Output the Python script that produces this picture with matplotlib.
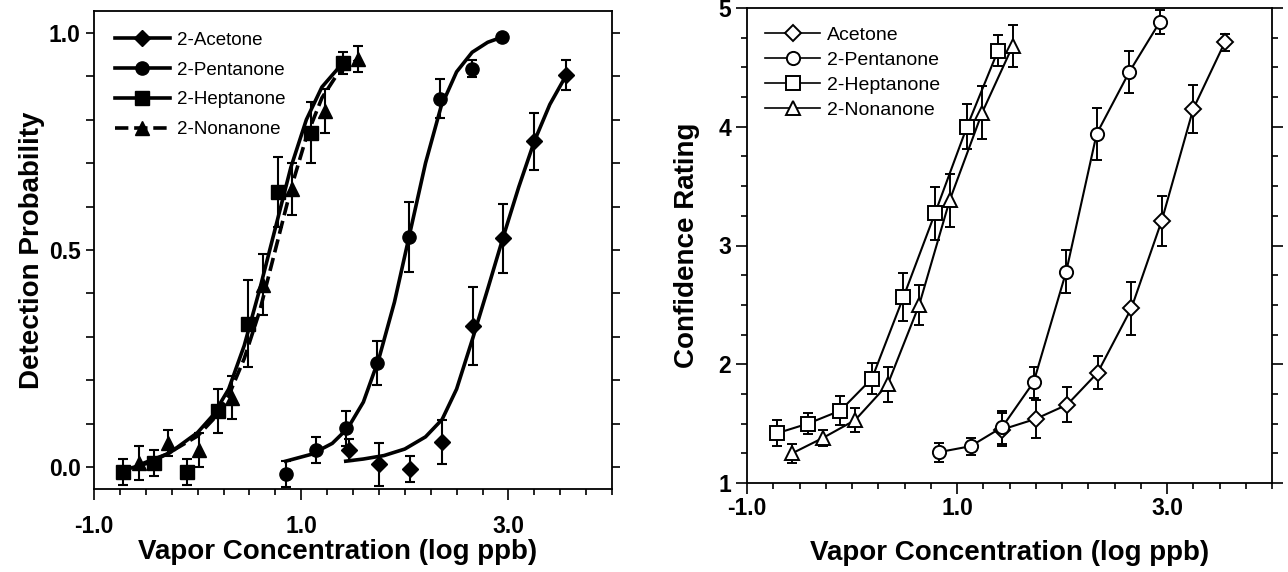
import matplotlib
matplotlib.use("Agg")
import matplotlib.pyplot as plt
from matplotlib.lines import Line2D
from matplotlib.ticker import MultipleLocator

plt.rcParams["font.family"] = ["Liberation Sans", "DejaVu Sans"]

# ---- left panel: detection probability (filled markers + fitted curves)
ace_x = [1.46, 1.75, 2.05, 2.36, 2.66, 2.95, 3.25, 3.56]
ace_y = [0.04, 0.007, -0.005, 0.058, 0.325, 0.527, 0.75, 0.903]
ace_e = [0.025, 0.05, 0.03, 0.05, 0.09, 0.08, 0.065, 0.035]

pen_x = [0.85, 1.14, 1.43, 1.73, 2.04, 2.34, 2.65, 2.94]
pen_y = [-0.015, 0.04, 0.09, 0.24, 0.53, 0.848, 0.917, 0.99]
pen_e = [0.03, 0.03, 0.04, 0.05, 0.08, 0.045, 0.02, 0.0]

hep_x = [-0.72, -0.42, -0.10, 0.20, 0.49, 0.78, 1.09, 1.40]
hep_y = [-0.01, 0.01, -0.01, 0.13, 0.33, 0.634, 0.77, 0.93]
hep_e = [0.03, 0.03, 0.03, 0.05, 0.10, 0.08, 0.07, 0.025]

non_x = [-0.57, -0.29, 0.01, 0.33, 0.63, 0.91, 1.23, 1.55]
non_y = [0.01, 0.055, 0.04, 0.16, 0.42, 0.64, 0.82, 0.94]
non_e = [0.04, 0.03, 0.04, 0.05, 0.07, 0.06, 0.05, 0.03]

# fitted curves
ace_fit_x = [1.43, 1.6, 1.8, 2.0, 2.2, 2.36, 2.5, 2.66, 2.8, 2.95, 3.1, 3.25, 3.4, 3.56]
ace_fit_y = [0.014, 0.019, 0.027, 0.042, 0.07, 0.11, 0.18, 0.30, 0.41, 0.53, 0.645, 0.75, 0.835, 0.903]
pen_fit_x = [0.85, 1.1, 1.3, 1.45, 1.6, 1.75, 1.9, 2.05, 2.2, 2.35, 2.5, 2.65, 2.8, 2.94]
pen_fit_y = [0.014, 0.03, 0.055, 0.09, 0.15, 0.25, 0.38, 0.54, 0.70, 0.83, 0.91, 0.955, 0.978, 0.99]
hep_fit_x = [-0.72, -0.5, -0.27, 0.0, 0.15, 0.3, 0.45, 0.6, 0.75, 0.9, 1.05, 1.2, 1.4]
hep_fit_y = [-0.007, 0.008, 0.033, 0.08, 0.12, 0.18, 0.28, 0.41, 0.55, 0.69, 0.80, 0.875, 0.93]
non_fit_x = [-0.57, -0.3, 0.0, 0.15, 0.3, 0.45, 0.6, 0.75, 0.9, 1.05, 1.2, 1.35, 1.55]
non_fit_y = [0.005, 0.03, 0.072, 0.11, 0.165, 0.25, 0.36, 0.5, 0.64, 0.76, 0.85, 0.905, 0.94]

# ---- right panel: confidence rating (open markers joined by lines)
r_ace_x = [1.43, 1.75, 2.05, 2.34, 2.66, 2.95, 3.25, 3.55]
r_ace_y = [1.45, 1.54, 1.66, 1.93, 2.47, 3.21, 4.15, 4.71]
r_ace_e = [0.14, 0.16, 0.15, 0.14, 0.22, 0.21, 0.20, 0.07]

r_pen_x = [0.83, 1.13, 1.43, 1.73, 2.04, 2.33, 2.64, 2.93]
r_pen_y = [1.26, 1.31, 1.47, 1.85, 2.78, 3.94, 4.46, 4.88]
r_pen_e = [0.08, 0.07, 0.14, 0.13, 0.18, 0.22, 0.18, 0.10]

r_hep_x = [-0.71, -0.42, -0.11, 0.19, 0.49, 0.79, 1.095, 1.39]
r_hep_y = [1.42, 1.50, 1.61, 1.88, 2.566, 3.27, 4.0, 4.64]
r_hep_e = [0.11, 0.09, 0.12, 0.13, 0.20, 0.22, 0.19, 0.13]

r_non_x = [-0.57, -0.276, 0.03, 0.34, 0.64, 0.93, 1.24, 1.53]
r_non_y = [1.25, 1.38, 1.53, 1.83, 2.50, 3.38, 4.12, 4.68]
r_non_e = [0.08, 0.07, 0.10, 0.15, 0.17, 0.22, 0.22, 0.18]

names_left = ["2-Acetone", "2-Pentanone", "2-Heptanone", "2-Nonanone"]
names_right = ["Acetone", "2-Pentanone", "2-Heptanone", "2-Nonanone"]

fig = plt.figure(figsize=(12.88, 5.72), dpi=100)
ax1 = fig.add_axes([94 / 1288, 83 / 572, 518 / 1288, 478 / 572])
ax2 = fig.add_axes([747 / 1288, 89 / 572, 525 / 1288, 475 / 572])

# left panel
left_sets = [
    (ace_x, ace_y, ace_e, ace_fit_x, ace_fit_y, "D", 8.5, "-"),
    (pen_x, pen_y, pen_e, pen_fit_x, pen_fit_y, "o", 9.5, "-"),
    (hep_x, hep_y, hep_e, hep_fit_x, hep_fit_y, "s", 9.5, "-"),
    (non_x, non_y, non_e, non_fit_x, non_fit_y, "^", 10.5, "--"),
]
handles = []
for (x, y, e, fx, fy, mk, ms, ls), name in zip(left_sets, names_left):
    ax1.errorbar(x, y, yerr=e, fmt="none", ecolor="black", elinewidth=1.5,
                 capsize=3.5, capthick=1.5, zorder=2)
    ax1.plot(x, y, linestyle="none", marker=mk, markersize=ms, color="black", zorder=3)
    ax1.plot(fx, fy, linestyle=ls, color="black", linewidth=2.6, zorder=4)
    handles.append(Line2D([], [], color="black", linestyle=ls, linewidth=2.6,
                          marker=mk, markersize=ms))

ax1.set_xlim(-1, 4)
ax1.set_ylim(-0.05, 1.05)
ax1.xaxis.set_minor_locator(MultipleLocator(0.25))
ax1.yaxis.set_minor_locator(MultipleLocator(0.1))
ax1.set_xticks([-1, 1, 3])
ax1.set_xticklabels(["-1.0", "1.0", "3.0"])
ax1.set_yticks([0, 0.5, 1.0])
ax1.set_yticklabels(["0.0", "0.5", "1.0"])
ax1.tick_params(axis="x", which="major", direction="out", length=8, width=1.2, pad=11)
ax1.tick_params(axis="x", which="minor", direction="out", length=4.5, width=1.2)
ax1.tick_params(axis="y", which="both", direction="out", length=6, width=1.2,
                left=True, right=True)
ax1.set_xlabel("Vapor Concentration (log ppb)", fontsize=20, fontweight="bold")
ax1.set_ylabel("Detection Probability", fontsize=20, fontweight="bold")
ax1.xaxis.set_label_coords(0.47, -0.105)
ax1.yaxis.set_label_coords(-0.095, 0.5)
ax1.legend(handles, names_left, loc="upper left", bbox_to_anchor=(0.0, 1.0),
           frameon=False, fontsize=13.5, handlelength=2.95, handletextpad=0.35,
           labelspacing=0.68, borderaxespad=0.7)

# right panel
right_sets = [
    (r_ace_x, r_ace_y, r_ace_e, "D", 8.0),
    (r_pen_x, r_pen_y, r_pen_e, "o", 9.5),
    (r_hep_x, r_hep_y, r_hep_e, "s", 9.5),
    (r_non_x, r_non_y, r_non_e, "^", 10.5),
]
handles2 = []
for (x, y, e, mk, ms), name in zip(right_sets, names_right):
    ax2.errorbar(x, y, yerr=e, fmt="none", ecolor="black", elinewidth=1.4,
                 capsize=3.5, capthick=1.4, zorder=2)
    ax2.plot(x, y, color="black", linewidth=1.5, marker=mk, markersize=ms,
             markerfacecolor="white", markeredgecolor="black", markeredgewidth=1.4,
             zorder=3)
    handles2.append(Line2D([], [], color="black", linewidth=1.2, marker=mk, markersize=ms,
                           markerfacecolor="white", markeredgecolor="black",
                           markeredgewidth=1.4))

ax2.set_xlim(-1, 4)
ax2.set_ylim(1, 5)
ax2.set_xticks([-1, 1, 3])
ax2.set_xticklabels(["-1.0", "1.0", "3.0"])
ax2.xaxis.set_minor_locator(MultipleLocator(0.25))
ax2.yaxis.set_major_locator(MultipleLocator(1))
ax2.yaxis.set_minor_locator(MultipleLocator(0.25))
ax2.tick_params(axis="both", which="major", direction="out", length=8, width=1.2,
                left=True, right=True)
ax2.tick_params(axis="both", which="minor", direction="out", length=4, width=1.2,
                left=True, right=True)
ax2.tick_params(axis="x", which="major", pad=2)
ax2.set_xlabel("Vapor Concentration (log ppb)", fontsize=20, fontweight="bold")
ax2.set_ylabel("Confidence Rating", fontsize=20, fontweight="bold")
ax2.xaxis.set_label_coords(0.5, -0.12)
ax2.yaxis.set_label_coords(-0.09, 0.5)
ax2.legend(handles2, names_right, loc="upper left", bbox_to_anchor=(0.0, 1.0),
           frameon=False, fontsize=14, handlelength=2.8, handletextpad=0.35,
           labelspacing=0.38, borderaxespad=0.55)

for ax in (ax1, ax2):
    for sp in ax.spines.values():
        sp.set_linewidth(1.3)
    for lab in ax.get_xticklabels() + ax.get_yticklabels():
        lab.set_fontweight("bold")
        lab.set_fontsize(16.5)

fig.savefig("out.png", dpi=100)
